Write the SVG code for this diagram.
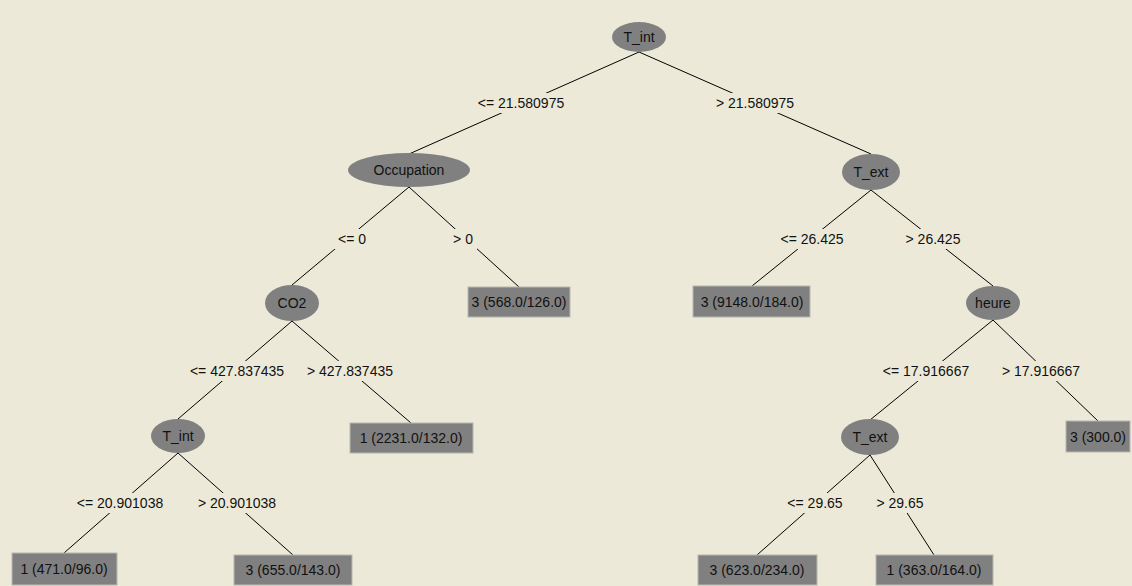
<svg xmlns="http://www.w3.org/2000/svg" width="1132" height="586" viewBox="0 0 1132 586">
<style>
.bg{fill:#ECE9D8}
.node{fill:#808080}
.leaf{fill:#808080;stroke:#b8b8b0;stroke-width:1}
.t{font-family:"Liberation Sans",Arial,sans-serif;font-size:14px;fill:#111;text-anchor:middle}
.e{stroke:#000;stroke-width:1;fill:none}
.lb{fill:#ECE9D8}
</style>
<rect class="bg" x="0" y="0" width="1132" height="586"/>
<g id="connectors">
<line class="e" x1="639" y1="52" x2="409" y2="154"/>
<line class="e" x1="639" y1="52" x2="871" y2="154"/>
<line class="e" x1="409" y1="187" x2="292" y2="285"/>
<line class="e" x1="409" y1="187" x2="519" y2="287"/>
<line class="e" x1="871" y1="190" x2="752" y2="286"/>
<line class="e" x1="871" y1="190" x2="993" y2="286"/>
<line class="e" x1="292" y1="321" x2="178" y2="419"/>
<line class="e" x1="292" y1="321" x2="411" y2="423"/>
<line class="e" x1="993" y1="320" x2="870" y2="420"/>
<line class="e" x1="993" y1="320" x2="1098" y2="421"/>
<line class="e" x1="178" y1="453" x2="64" y2="553"/>
<line class="e" x1="178" y1="453" x2="293" y2="555"/>
<line class="e" x1="870" y1="455" x2="757" y2="555"/>
<line class="e" x1="870" y1="455" x2="934" y2="555"/>
<g id="edge-labels">
<rect class="lb" x="472" y="93" width="100" height="20"/><text class="t" x="521" y="108">&lt;= 21.580975</text>
<rect class="lb" x="710" y="93" width="90" height="20"/><text class="t" x="755" y="108">&gt; 21.580975</text>
<rect class="lb" x="334" y="229" width="38" height="20"/><text class="t" x="352" y="244">&lt;= 0</text>
<rect class="lb" x="449" y="229" width="28" height="20"/><text class="t" x="463" y="244">&gt; 0</text>
<rect class="lb" x="778" y="229" width="68" height="20"/><text class="t" x="812" y="244">&lt;= 26.425</text>
<rect class="lb" x="894" y="229" width="78" height="20"/><text class="t" x="933" y="244">&gt; 26.425</text>
<rect class="lb" x="184" y="361" width="106" height="20"/><text class="t" x="237" y="376">&lt;= 427.837435</text>
<rect class="lb" x="301" y="361" width="98" height="20"/><text class="t" x="350" y="376">&gt; 427.837435</text>
<rect class="lb" x="878" y="361" width="97" height="20"/><text class="t" x="926" y="376">&lt;= 17.916667</text>
<rect class="lb" x="996" y="361" width="90" height="20"/><text class="t" x="1041" y="376">&gt; 17.916667</text>
<rect class="lb" x="71" y="493" width="98" height="20"/><text class="t" x="120" y="508">&lt;= 20.901038</text>
<rect class="lb" x="189" y="493" width="96" height="20"/><text class="t" x="237" y="508">&gt; 20.901038</text>
<rect class="lb" x="783" y="493" width="64" height="20"/><text class="t" x="815" y="508">&lt;= 29.65</text>
<rect class="lb" x="873" y="493" width="54" height="20"/><text class="t" x="900" y="508">&gt; 29.65</text>
</g>
</g>
<g id="n-root"><ellipse class="node" cx="639" cy="37" rx="27" ry="15"/><text class="t" x="639" y="42">T_int</text></g>
<g id="n-occupation"><ellipse class="node" cx="409" cy="170" rx="61" ry="17"/><text class="t" x="409" y="175">Occupation</text></g>
<g id="n-text1"><ellipse class="node" cx="871" cy="172" rx="29" ry="18"/><text class="t" x="871" y="177">T_ext</text></g>
<g id="n-co2"><ellipse class="node" cx="292" cy="303" rx="27" ry="18"/><text class="t" x="292" y="308">CO2</text></g>
<g id="leaf-568"><rect class="leaf" x="468" y="287" width="102" height="30"/><text class="t" x="519" y="307">3 (568.0/126.0)</text></g>
<g id="leaf-9148"><rect class="leaf" x="693" y="286" width="117" height="31"/><text class="t" x="752" y="307">3 (9148.0/184.0)</text></g>
<g id="n-heure"><ellipse class="node" cx="993" cy="303" rx="27" ry="17"/><text class="t" x="993" y="308">heure</text></g>
<g id="n-tint2"><ellipse class="node" cx="178" cy="436" rx="27" ry="17"/><text class="t" x="178" y="441">T_int</text></g>
<g id="leaf-2231"><rect class="leaf" x="350" y="423" width="123" height="30"/><text class="t" x="411" y="443">1 (2231.0/132.0)</text></g>
<g id="n-text2"><ellipse class="node" cx="870" cy="437" rx="29" ry="18"/><text class="t" x="870" y="442">T_ext</text></g>
<g id="leaf-300"><rect class="leaf" x="1066" y="421" width="64" height="31"/><text class="t" x="1098" y="442">3 (300.0)</text></g>
<g id="leaf-471"><rect class="leaf" x="12" y="553" width="105" height="32"/><text class="t" x="64" y="574">1 (471.0/96.0)</text></g>
<g id="leaf-655"><rect class="leaf" x="234" y="555" width="118" height="30"/><text class="t" x="293" y="575">3 (655.0/143.0)</text></g>
<g id="leaf-623"><rect class="leaf" x="698" y="555" width="119" height="30"/><text class="t" x="757" y="575">3 (623.0/234.0)</text></g>
<g id="leaf-363"><rect class="leaf" x="876" y="555" width="117" height="30"/><text class="t" x="934" y="575">1 (363.0/164.0)</text></g>
</svg>
